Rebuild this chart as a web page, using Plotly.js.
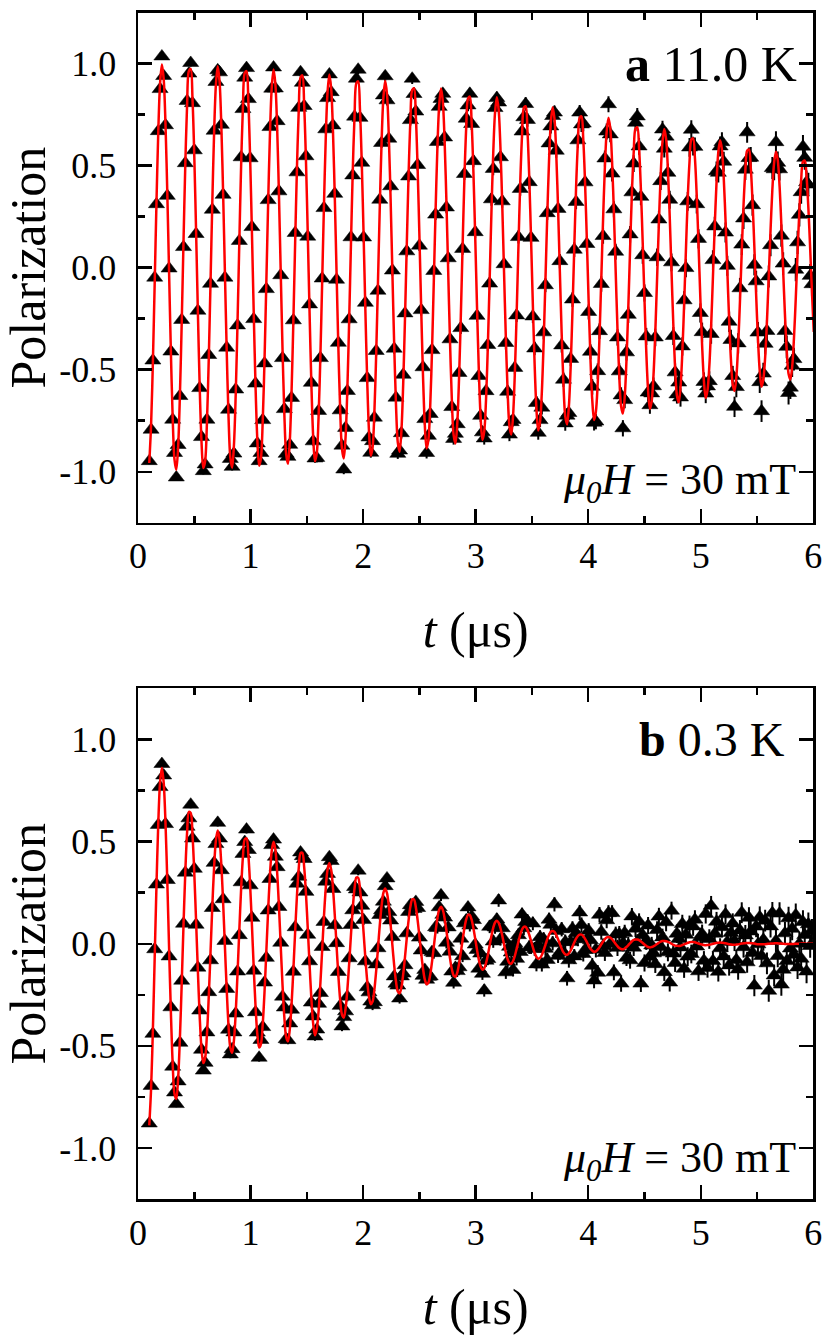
<!DOCTYPE html>
<html>
<head>
<meta charset="utf-8">
<script src="https://cdn.plot.ly/plotly-3.0.1.min.js"></script>
<style>html,body{margin:0;padding:0;background:#fff}#chart{width:830px;height:1336px}</style>
</head>
<body>
<div id="chart"></div>
<script>
// time grid of the histogram bins (μs)
const timeStart = 0.1;
const timeStep = 0.016;

// panel a: 11.0 K, measured polarization
const polarizationA = [
-0.948,-0.794,-0.455,-0.049,0.311,0.669,0.875,1.035,0.939,0.698,0.352,-0.004,-0.411,-0.745,-0.908,-1.028,-0.869,-0.629,-0.256,0.101,0.512,0.817,0.951,1.003,0.806,0.575,0.165,-0.211,-0.590,-0.830,-0.997,
-0.964,-0.745,-0.428,-0.079,0.284,0.671,0.910,0.967,0.957,0.700,0.357,-0.049,-0.392,-0.696,-0.937,-0.976,-0.911,-0.597,-0.283,0.131,0.541,0.777,0.931,0.978,0.826,0.536,0.199,-0.252,-0.568,-0.861,-0.948,
-0.908,-0.747,-0.469,-0.105,0.331,0.689,0.877,0.981,0.878,0.718,0.374,-0.037,-0.443,-0.693,-0.912,-0.927,-0.868,-0.638,-0.258,0.170,0.467,0.783,0.958,0.906,0.792,0.546,0.152,-0.180,-0.564,-0.851,-0.935,
-0.932,-0.702,-0.443,-0.053,0.292,0.678,0.831,0.947,0.860,0.697,0.362,-0.059,-0.368,-0.699,-0.872,-0.989,-0.785,-0.604,-0.253,0.149,0.452,0.740,0.926,0.970,0.734,0.514,0.148,-0.172,-0.541,-0.832,-0.907,
-0.850,-0.735,-0.408,-0.113,0.333,0.611,0.844,0.938,0.820,0.632,0.399,-0.014,-0.397,-0.637,-0.912,-0.896,-0.811,-0.525,-0.224,0.080,0.447,0.723,0.926,0.851,0.765,0.503,0.108,-0.208,-0.488,-0.742,-0.908,
-0.824,-0.717,-0.404,-0.016,0.260,0.616,0.788,0.827,0.852,0.638,0.295,0.046,-0.351,-0.683,-0.839,-0.814,-0.767,-0.516,-0.296,0.092,0.459,0.730,0.795,0.852,0.704,0.522,0.174,-0.236,-0.531,-0.726,-0.807,
-0.837,-0.605,-0.379,-0.078,0.335,0.484,0.782,0.831,0.809,0.541,0.325,0.017,-0.369,-0.608,-0.818,-0.757,-0.746,-0.491,-0.234,0.150,0.386,0.667,0.737,0.802,0.724,0.419,0.146,-0.239,-0.396,-0.663,-0.809,
-0.747,-0.686,-0.317,-0.086,0.267,0.609,0.692,0.743,0.760,0.573,0.288,0.032,-0.381,-0.549,-0.763,-0.725,-0.712,-0.447,-0.156,0.088,0.322,0.624,0.760,0.702,0.706,0.418,0.116,-0.217,-0.412,-0.584,-0.760,
-0.754,-0.507,-0.311,-0.080,0.155,0.535,0.667,0.801,0.653,0.461,0.286,0.078,-0.342,-0.508,-0.626,-0.787,-0.649,-0.415,-0.231,0.163,0.369,0.510,0.710,0.741,0.594,0.347,0.061,-0.124,-0.337,-0.612,-0.674,
-0.616,-0.581,-0.342,0.051,0.236,0.424,0.677,0.583,0.642,0.465,0.333,0.026,-0.335,-0.513,-0.621,-0.563,-0.636,-0.386,-0.160,-0.002,0.325,0.589,0.676,0.596,0.592,0.311,0.141,-0.222,-0.316,-0.560,-0.617,
-0.582,-0.556,-0.325,0.037,0.202,0.472,0.465,0.594,0.615,0.519,0.172,0.009,-0.265,-0.354,-0.531,-0.682,-0.585,-0.371,-0.101,0.113,0.241,0.480,0.663,0.537,0.539,0.306,0.014,-0.067,-0.318,-0.561,-0.703,
-0.519,-0.373,-0.310,-0.043,0.110,0.488,0.482,0.615,0.514,0.482,0.157,0.020,-0.310,-0.388,-0.614,-0.588,-0.480,-0.448,-0.010,0.124,0.259,0.370,0.593,0.538,0.418,0.407,-0.040,-0.081
];

// panel a: fitted curve
const fitA = [
-0.957,-0.771,-0.461,-0.076,0.322,0.667,0.904,0.995,0.924,0.704,0.369,-0.025,-0.415,-0.737,-0.940,-0.990,-0.880,-0.627,-0.273,0.126,0.504,0.798,0.964,0.974,0.827,0.545,0.175,-0.224,-0.586,-0.853,-0.982,
-0.949,-0.765,-0.457,-0.075,0.319,0.662,0.897,0.987,0.917,0.698,0.366,-0.025,-0.410,-0.729,-0.930,-0.980,-0.871,-0.621,-0.270,0.124,0.499,0.788,0.953,0.963,0.817,0.538,0.173,-0.221,-0.579,-0.843,-0.970,
-0.934,-0.752,-0.450,-0.074,0.314,0.651,0.882,0.971,0.902,0.687,0.360,-0.025,-0.402,-0.715,-0.912,-0.961,-0.854,-0.609,-0.265,0.122,0.489,0.771,0.932,0.942,0.799,0.527,0.169,-0.216,-0.566,-0.825,-0.949,
-0.910,-0.734,-0.438,-0.072,0.306,0.635,0.861,0.947,0.879,0.670,0.351,-0.024,-0.392,-0.696,-0.888,-0.935,-0.831,-0.593,-0.258,0.119,0.476,0.748,0.904,0.913,0.775,0.511,0.164,-0.210,-0.549,-0.800,-0.921,
-0.881,-0.710,-0.424,-0.070,0.296,0.614,0.832,0.916,0.851,0.648,0.340,-0.023,-0.378,-0.671,-0.856,-0.902,-0.802,-0.572,-0.249,0.114,0.459,0.720,0.870,0.879,0.746,0.491,0.158,-0.202,-0.528,-0.770,-0.886,
-0.844,-0.680,-0.407,-0.067,0.284,0.589,0.798,0.878,0.815,0.621,0.326,-0.022,-0.361,-0.642,-0.819,-0.862,-0.767,-0.547,-0.238,0.109,0.439,0.686,0.829,0.838,0.711,0.468,0.150,-0.192,-0.504,-0.733,-0.844,
-0.803,-0.647,-0.387,-0.063,0.270,0.560,0.759,0.835,0.775,0.590,0.310,-0.021,-0.342,-0.608,-0.776,-0.818,-0.727,-0.518,-0.226,0.104,0.416,0.648,0.783,0.791,0.671,0.442,0.142,-0.182,-0.476,-0.693,-0.798,
-0.756,-0.609,-0.364,-0.060,0.254,0.527,0.714,0.786,0.730,0.556,0.292,-0.020,-0.321,-0.571,-0.729,-0.768,-0.682,-0.486,-0.212,0.097,0.391,0.607,0.734,0.741,0.629,0.414,0.133,-0.170,-0.446,-0.649,-0.747,
-0.706,-0.569,-0.340,-0.056,0.237,0.492,0.667,0.734,0.682,0.519,0.272,-0.018,-0.299,-0.532,-0.679,-0.715,-0.635,-0.453,-0.197,0.091,0.364,0.563,0.681,0.688,0.584,0.385,0.123,-0.158,-0.414,-0.602,-0.693,
-0.654,-0.527,-0.315,-0.052,0.220,0.456,0.618,0.680,0.631,0.481,0.252,-0.017,-0.276,-0.491,-0.626,-0.660,-0.587,-0.418,-0.182,0.084,0.336,0.519,0.627,0.634,0.538,0.354,0.114,-0.146,-0.381,-0.555,-0.639,
-0.600,-0.484,-0.289,-0.047,0.202,0.418,0.567,0.624,0.579,0.441,0.232,-0.015,-0.253,-0.450,-0.573,-0.604,-0.537,-0.383,-0.167,0.077,0.307,0.474,0.573,0.579,0.491,0.324,0.104,-0.133,-0.348,-0.507,-0.583,
-0.546,-0.440,-0.263,-0.043,0.184,0.381,0.516,0.568,0.527,0.402,0.211,-0.014,-0.230,-0.408,-0.520,-0.548,-0.487,-0.347,-0.151,0.070,0.279,0.430,0.519,0.525,0.445,0.293,0.094,-0.121,-0.315
];

// panel b: 0.3 K, measured polarization
const polarizationB = [
-0.880,-0.696,-0.441,-0.027,0.290,0.582,0.767,0.880,0.824,0.586,0.312,-0.062,-0.311,-0.602,-0.728,-0.785,-0.674,-0.485,-0.181,0.098,0.348,0.573,0.614,0.681,0.515,0.367,0.093,-0.117,-0.327,-0.519,-0.621,
-0.583,-0.434,-0.237,-0.081,0.175,0.396,0.488,0.592,0.515,0.360,0.218,0.014,-0.221,-0.421,-0.542,-0.516,-0.434,-0.342,-0.136,0.042,0.301,0.440,0.498,0.559,0.459,0.286,0.127,-0.132,-0.335,-0.435,-0.558,
-0.471,-0.408,-0.190,-0.069,0.163,0.317,0.483,0.510,0.426,0.375,0.180,0.005,-0.259,-0.312,-0.467,-0.472,-0.390,-0.323,-0.137,0.081,0.294,0.328,0.447,0.429,0.415,0.254,0.044,-0.086,-0.288,-0.356,-0.454,
-0.420,-0.294,-0.241,-0.016,0.107,0.304,0.342,0.424,0.405,0.268,0.091,0.003,-0.138,-0.304,-0.405,-0.359,-0.331,-0.259,-0.071,0.092,0.164,0.278,0.266,0.358,0.251,0.186,0.116,-0.086,-0.213,-0.238,-0.283,
-0.301,-0.286,-0.101,-0.022,0.141,0.164,0.206,0.282,0.320,0.155,0.114,0.033,-0.160,-0.196,-0.205,-0.268,-0.160,-0.146,-0.105,0.051,0.156,0.189,0.188,0.170,0.205,0.175,0.030,-0.033,-0.157,-0.128,-0.176,
-0.162,-0.160,-0.041,-0.046,0.081,0.077,0.179,0.237,0.142,0.128,0.005,0.080,-0.039,-0.136,-0.191,-0.118,-0.134,-0.115,0.025,-0.061,0.100,0.115,0.178,0.089,0.134,0.116,-0.004,-0.030,-0.122,-0.048,-0.147,
-0.229,-0.083,-0.075,0.083,0.087,0.011,0.080,0.119,0.212,0.022,0.076,0.021,-0.140,-0.088,-0.015,-0.043,-0.128,0.002,-0.074,0.042,-0.040,0.143,0.076,0.107,0.111,-0.017,-0.017,0.099,-0.026,-0.101,-0.006,
0.032,-0.102,0.022,-0.025,-0.079,0.118,0.093,0.002,0.193,0.063,-0.059,-0.043,0.071,-0.042,0.009,-0.169,-0.081,0.008,0.074,-0.062,0.052,0.025,0.153,0.092,-0.050,-0.030,0.022,0.064,0.017,-0.108,-0.180,
-0.029,-0.142,0.142,0.058,-0.012,-0.045,0.115,0.150,0.000,0.150,-0.140,0.045,-0.020,0.047,-0.195,0.003,0.053,-0.069,-0.007,-0.081,0.134,-0.019,0.074,0.006,0.108,-0.195,0.042,-0.094,0.012,0.089,-0.064,
-0.008,-0.047,-0.100,0.067,0.133,-0.016,0.031,-0.139,0.105,-0.042,-0.190,0.162,-0.048,-0.094,0.049,0.023,-0.018,0.097,-0.122,0.044,-0.063,0.092,-0.050,0.085,0.118,-0.014,-0.135,0.032,0.047,-0.083,0.146,
-0.119,0.023,0.186,-0.085,0.049,0.108,-0.137,-0.022,0.081,-0.062,0.144,0.009,-0.106,0.053,0.099,0.014,-0.080,-0.126,0.065,0.152,-0.017,0.041,-0.091,0.127,0.060,-0.045,-0.205,0.084,-0.003,0.130,-0.060,
0.019,0.113,-0.096,-0.230,0.085,0.150,-0.155,0.014,-0.060,0.148,-0.200,-0.127,0.051,-0.085,0.125,-0.023,0.073,-0.054,0.140,-0.116,0.000,-0.073,0.107,0.043,-0.136,0.095,-0.011,0.063
];

// panel b: fitted curve
const fitB = [
-0.889,-0.710,-0.420,-0.068,0.288,0.591,0.792,0.862,0.789,0.593,0.307,-0.021,-0.336,-0.588,-0.735,-0.760,-0.662,-0.462,-0.197,0.089,0.350,0.545,0.646,0.641,0.533,0.344,0.109,-0.138,-0.357,-0.514,-0.584,
-0.560,-0.447,-0.265,-0.043,0.183,0.376,0.506,0.554,0.512,0.388,0.203,-0.014,-0.226,-0.401,-0.509,-0.534,-0.474,-0.337,-0.146,0.067,0.268,0.425,0.511,0.516,0.436,0.286,0.092,-0.117,-0.305,-0.443,-0.508,
-0.491,-0.394,-0.235,-0.038,0.163,0.337,0.455,0.499,0.462,0.350,0.183,-0.012,-0.203,-0.360,-0.456,-0.478,-0.421,-0.298,-0.129,0.059,0.235,0.370,0.444,0.446,0.376,0.246,0.078,-0.100,-0.266,-0.390,-0.448,
-0.417,-0.332,-0.196,-0.032,0.133,0.272,0.364,0.395,0.363,0.274,0.142,-0.010,-0.157,-0.275,-0.347,-0.362,-0.318,-0.224,-0.097,0.044,0.174,0.272,0.324,0.323,0.270,0.176,0.055,-0.070,-0.181,-0.260,-0.296,
-0.283,-0.225,-0.133,-0.022,0.091,0.186,0.249,0.271,0.248,0.187,0.096,-0.007,-0.106,-0.185,-0.234,-0.243,-0.214,-0.150,-0.065,0.029,0.116,0.182,0.217,0.217,0.180,0.117,0.037,-0.047,-0.121,-0.175,-0.198,
-0.190,-0.152,-0.089,-0.014,0.061,0.125,0.167,0.181,0.166,0.124,0.065,-0.004,-0.071,-0.124,-0.155,-0.162,-0.142,-0.099,-0.043,0.019,0.076,0.119,0.142,0.141,0.118,0.076,0.024,-0.030,-0.078,-0.112,-0.127,
-0.120,-0.095,-0.056,-0.009,0.038,0.078,0.104,0.112,0.103,0.077,0.040,-0.003,-0.043,-0.076,-0.095,-0.098,-0.085,-0.059,-0.025,0.011,0.045,0.070,0.083,0.083,0.068,0.044,0.014,-0.017,-0.045,-0.065,-0.073,
-0.069,-0.055,-0.032,-0.005,0.022,0.044,0.059,0.063,0.058,0.043,0.022,-0.002,-0.024,-0.042,-0.052,-0.054,-0.047,-0.033,-0.014,0.006,0.025,0.038,0.045,0.045,0.038,0.024,0.008,-0.010,-0.024,-0.034,-0.039,
-0.037,-0.029,-0.017,-0.003,0.011,0.023,0.031,0.033,0.030,0.022,0.011,-0.001,-0.012,-0.021,-0.026,-0.027,-0.023,-0.016,-0.007,0.003,0.012,0.019,0.021,0.021,0.018,0.011,0.004,-0.004,-0.011,-0.016,-0.018,
-0.016,-0.013,-0.007,-0.001,0.005,0.010,0.013,0.014,0.012,0.009,0.005,0.000,-0.005,-0.009,-0.010,-0.011,-0.010,-0.006,-0.003,0.001,0.005,0.007,0.009,0.008,0.007,0.004,0.001,-0.002,-0.004,-0.006,-0.007,
-0.006,-0.005,-0.003,0.000,0.002,0.004,0.005,0.006,0.005,0.004,0.002,0.000,-0.002,-0.004,-0.005,-0.005,-0.004,-0.003,-0.001,0.001,0.002,0.003,0.004,0.004,0.003,0.002,0.001,-0.001,-0.002,-0.002,-0.003,
-0.002,-0.002,-0.001,0.000,0.001,0.001,0.002,0.002,0.002,0.001,0.001,0.000,-0.001,-0.001,-0.001,-0.001,-0.001,-0.001,0.000,0.000,0.000,0.001,0.001,0.001,0.000,0.000,0.000,0.000,0.000
];

// statistical error of each bin (shared by both panels)
const errorBars = [
0.015,0.015,0.015,
0.016,0.016,0.016,0.016,0.016,0.016,0.016,0.016,0.016,0.016,0.016,0.016,0.016,0.016,0.016,0.016,0.016,
0.017,0.017,0.017,0.017,0.017,0.017,0.017,0.017,0.017,0.017,0.017,0.017,0.017,0.017,0.017,
0.018,0.018,0.018,0.018,0.018,0.018,0.018,0.018,0.018,0.018,0.018,0.018,0.018,0.018,0.018,0.018,
0.019,0.019,0.019,0.019,0.019,0.019,0.019,0.019,0.019,0.019,0.019,0.019,0.019,0.019,0.019,
0.020,0.020,0.020,0.020,0.020,0.020,0.020,0.020,0.020,0.020,0.020,0.020,0.020,0.020,
0.021,0.021,0.021,0.021,0.021,0.021,0.021,0.021,0.021,0.021,0.021,0.021,0.021,
0.022,0.022,0.022,0.022,0.022,0.022,0.022,0.022,0.022,0.022,0.022,0.022,
0.023,0.023,0.023,0.023,0.023,0.023,0.023,0.023,0.023,0.023,0.023,0.023,
0.024,0.024,0.024,0.024,0.024,0.024,0.024,0.024,0.024,0.024,0.024,0.024,
0.025,0.025,0.025,0.025,0.025,0.025,0.025,0.025,0.025,0.025,0.025,
0.026,0.026,0.026,0.026,0.026,0.026,0.026,0.026,0.026,0.026,0.026,
0.027,0.027,0.027,0.027,0.027,0.027,0.027,0.027,0.027,0.027,
0.028,0.028,0.028,0.028,0.028,0.028,0.028,0.028,0.028,
0.029,0.029,0.029,0.029,0.029,0.029,0.029,0.029,0.029,0.029,
0.030,0.030,0.030,0.030,0.030,0.030,0.030,0.030,0.030,
0.031,0.031,0.031,0.031,0.031,0.031,0.031,0.031,0.031,
0.032,0.032,0.032,0.032,0.032,0.032,0.032,0.032,
0.033,0.033,0.033,0.033,0.033,0.033,0.033,0.033,0.033,
0.034,0.034,0.034,0.034,0.034,0.034,0.034,0.034,
0.035,0.035,0.035,0.035,0.035,0.035,0.035,0.035,
0.036,0.036,0.036,0.036,0.036,0.036,0.036,
0.037,0.037,0.037,0.037,0.037,0.037,0.037,0.037,
0.038,0.038,0.038,0.038,0.038,0.038,0.038,
0.039,0.039,0.039,0.039,0.039,0.039,0.039,
0.040,0.040,0.040,0.040,0.040,0.040,0.040,
0.041,0.041,0.041,0.041,0.041,0.041,0.041,
0.042,0.042,0.042,0.042,0.042,0.042,
0.043,0.043,0.043,0.043,0.043,0.043,0.043,
0.044,0.044,0.044,0.044,0.044,0.044,
0.045,0.045,0.045,0.045,0.045,0.045,
0.046,0.046,0.046,0.046,0.046,0.046,
0.047,0.047,0.047,0.047,0.047,0.047,
0.048,0.048,0.048,0.048,0.048,0.048,
0.049,0.049,0.049,0.049,0.049,
0.050,0.050,0.050,0.050,0.050,0.050,
0.051,0.051,0.051,0.051,0.051,
0.052,0.052,0.052,0.052,0.052,0.052,
0.053,0.053,0.053,0.053,0.053,
0.054,0.054,0.054,0.054,0.054,
0.055,0.055,0.055,0.055,0.055,
0.056,0.056,0.056,0.056,0.056,
0.057,0.057,0.057,0.057,0.057,
0.058,0.058,0.058,0.058,0.058
];

const xTickValues = [0, 1, 2, 3, 4, 5, 6];
const yTickValues = [-1, -0.5, 0, 0.5, 1];
const yTickLabels = ['-1.0', '-0.5', '0.0', '0.5', '1.0'];
const panelLabels = ['<b>a</b> 11.0 K', '<b>b</b> 0.3 K'];
const fieldLabel = '<i>μ<sub>0</sub>H</i> = 30 mT';
const xTitle = '<i>t</i> (μs)';
const yTitle = 'Polarization';

const serif = 'Liberation Serif, Times New Roman, Times, serif';
const xDomain = [0.1663, 0.9799];
const yDomainA = [0.6087, 0.9906];
const yDomainB = [0.1025, 0.4847];

function dataTrace(y, xa, ya) {
  return {
    type: 'scatter', mode: 'markers', x0: timeStart, dx: timeStep, y: y,
    xaxis: xa, yaxis: ya, showlegend: false, hoverinfo: 'skip',
    marker: {symbol: 'triangle-up', size: 14, color: '#000', line: {width: 0.5, color: '#000'}},
    error_y: {type: 'data', array: errorBars, visible: true, color: '#000', thickness: 2, width: 0}
  };
}
function fitTrace(y, xa, ya) {
  return {
    type: 'scatter', mode: 'lines', x0: timeStart, dx: timeStep, y: y,
    xaxis: xa, yaxis: ya, showlegend: false, hoverinfo: 'skip',
    line: {color: '#ff0000', width: 2.5, shape: 'spline', smoothing: 0.9}
  };
}
function xAxis(anchor) {
  return {
    domain: xDomain, anchor: anchor, range: [0, 6], tickmode: 'array', tickvals: xTickValues,
    ticks: 'inside', ticklen: 14, tickwidth: 2.5, tickcolor: '#000',
    showline: true, linewidth: 2.5, linecolor: '#000', mirror: 'ticks',
    showgrid: false, zeroline: false, ticklabelstandoff: 0,
    tickfont: {family: serif, size: 36, color: '#000'},
    minor: {tickmode: 'linear', tick0: 0, dtick: 0.5, ticks: 'inside', ticklen: 7, tickwidth: 2.5, tickcolor: '#000', showgrid: false},
    title: {text: xTitle, font: {family: serif, size: 50, color: '#000'}, standoff: 37}
  };
}
function yAxis(anchor, domain) {
  return {
    domain: domain, anchor: anchor, range: [-1.25, 1.25], tickmode: 'array',
    tickvals: yTickValues, ticktext: yTickLabels,
    ticks: 'inside', ticklen: 14, tickwidth: 2.5, tickcolor: '#000',
    showline: true, linewidth: 2.5, linecolor: '#000', mirror: 'ticks',
    showgrid: false, zeroline: false, ticklabelstandoff: 12,
    tickfont: {family: serif, size: 36, color: '#000'},
    minor: {tickmode: 'linear', tick0: 0, dtick: 0.25, ticks: 'inside', ticklen: 7, tickwidth: 2.5, tickcolor: '#000', showgrid: false},
    title: {text: yTitle, font: {family: serif, size: 50, color: '#000'}, standoff: 9}
  };
}
function label(text, xref, yref, x, y, size) {
  return {text: text, xref: xref, yref: yref, x: x, y: y, xanchor: 'right', yanchor: 'middle',
          showarrow: false, font: {family: serif, size: size, color: '#000'}};
}

const traces = [
  dataTrace(polarizationA, 'x', 'y'), fitTrace(fitA, 'x', 'y'),
  dataTrace(polarizationB, 'x2', 'y2'), fitTrace(fitB, 'x2', 'y2')
];

const layout = {
  width: 830, height: 1336,
  margin: {l: 0, r: 0, t: 0, b: 0},
  paper_bgcolor: '#fff', plot_bgcolor: '#fff',
  font: {family: serif, color: '#000'},
  showlegend: false,
  xaxis: xAxis('y'), yaxis: yAxis('x', yDomainA),
  xaxis2: xAxis('y2'), yaxis2: yAxis('x2', yDomainB),
  annotations: [
    label(panelLabels[0], 'x', 'y', 5.87, 1.0, 50),
    label(fieldLabel, 'x', 'y', 5.86, -1.055, 44),
    label(panelLabels[1], 'x2', 'y2', 5.77, 1.0, 48),
    label(fieldLabel, 'x2', 'y2', 5.86, -1.06, 44)
  ]
};

Plotly.newPlot('chart', traces, layout, {displayModeBar: false, staticPlot: true});
</script>
</body>
</html>
